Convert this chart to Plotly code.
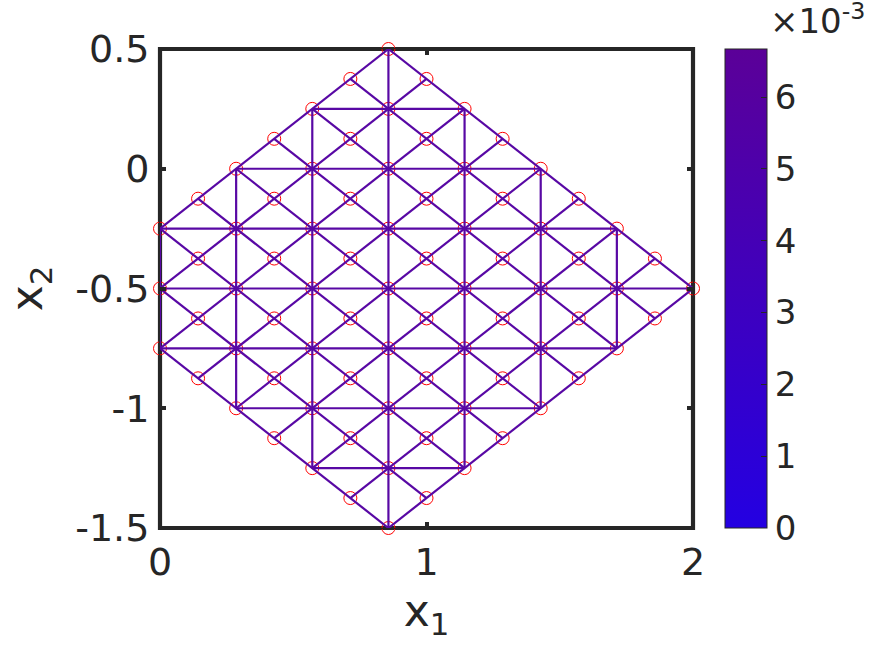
import plotly.graph_objects as go

# Lattice of the mesh
x_step = 1 / 7

# Node rows: level of x2 -> lattice columns (x1 = column / 7)
row_levels = [0.5, 0.375, 0.25, 0.125, 0, -0.125, -0.25, -0.375, -0.5, -0.625, -0.75, -0.875, -1, -1.125, -1.25, -1.375, -1.5]
row_columns = [
    [6], [5, 7], [4, 6, 8], [3, 5, 7, 9], [2, 4, 6, 8, 10],
    [1, 3, 5, 7, 9, 11], [0, 2, 4, 6, 8, 10, 12], [1, 3, 5, 7, 9, 11, 13],
    [0, 2, 4, 6, 8, 10, 12, 14], [1, 3, 5, 7, 9, 11, 13], [0, 2, 4, 6, 8, 10, 12],
    [1, 3, 5, 7, 9, 11], [2, 4, 6, 8, 10], [3, 5, 7, 9], [4, 6, 8], [5, 7], [6],
]

# Mesh edges: (column, x2) start and end
horizontal_edges = [((4, 0.25), (8, 0.25)), ((2, 0), (10, 0)), ((0, -0.25), (12, -0.25)),
                    ((0, -0.5), (14, -0.5)), ((0, -0.75), (12, -0.75)), ((2, -1), (10, -1)),
                    ((4, -1.25), (8, -1.25))]
vertical_edges = [((0, -0.25), (0, -0.75)), ((2, 0), (2, -1)), ((4, 0.25), (4, -1.25)),
                  ((6, 0.5), (6, -1.5)), ((8, 0.25), (8, -1.25)), ((10, 0), (10, -1)),
                  ((12, -0.25), (12, -0.75))]
falling_edges = [((6, 0.5), (14, -0.5)), ((5, 0.375), (13, -0.625)), ((4, 0.25), (12, -0.75)),
                 ((3, 0.125), (11, -0.875)), ((2, 0), (10, -1)), ((1, -0.125), (9, -1.125)),
                 ((0, -0.25), (8, -1.25)), ((0, -0.5), (7, -1.375)), ((0, -0.75), (6, -1.5))]
rising_edges = [((6, -1.5), (14, -0.5)), ((5, -1.375), (13, -0.375)), ((4, -1.25), (12, -0.25)),
                ((3, -1.125), (11, -0.125)), ((2, -1), (10, 0)), ((1, -0.875), (9, 0.125)),
                ((0, -0.75), (8, 0.25)), ((0, -0.5), (7, 0.375)), ((0, -0.25), (6, 0.5))]

x_ticks = [0, 1, 2]
y_ticks = [0.5, 0, -0.5, -1, -1.5]
y_tick_labels = ["0.5", "0", "-0.5", "-1", "-1.5"]
cbar_ticks = [0, 0.001, 0.002, 0.003, 0.004, 0.005, 0.006]
cbar_labels = ["0", "1", "2", "3", "4", "5", "6"]
cbar_range = [0, 0.00667]
colorscale = [[0, "#2400e2"], [1, "#5b0098"]]
INK = "#262626"
FONT = "DejaVu Sans"

node_x, node_y = [], []
for level, cols in zip(row_levels, row_columns):
    for c in cols:
        node_x.append(c * x_step)
        node_y.append(level)

edge_x, edge_y = [], []
for group in (horizontal_edges, vertical_edges, falling_edges, rising_edges):
    for (c0, y0), (c1, y1) in group:
        edge_x += [c0 * x_step, c1 * x_step, None]
        edge_y += [y0, y1, None]

fig = go.Figure()
fig.add_trace(go.Scatter(x=node_x, y=node_y, mode="markers", cliponaxis=False, showlegend=False,
                         marker=dict(symbol="circle-open", size=13, color="#ff0000", line=dict(width=1))))
fig.add_trace(go.Scatter(x=edge_x, y=edge_y, mode="lines", cliponaxis=False, showlegend=False,
                         line=dict(color="#5808a4", width=2.2)))
fig.add_trace(go.Scatter(
    x=[None, None], y=[None, None], mode="markers", showlegend=False,
    marker=dict(color=cbar_range, cmin=cbar_range[0], cmax=cbar_range[1], colorscale=colorscale,
                showscale=True,
                colorbar=dict(x=1.0603, xanchor="left", xref="paper", y=0, yanchor="bottom", yref="paper",
                              len=1, lenmode="fraction", thickness=42, thicknessmode="pixels",
                              outlinecolor=INK, outlinewidth=1, xpad=0, ypad=0,
                              tickmode="array", tickvals=cbar_ticks, ticktext=cbar_labels,
                              ticks="inside", ticklen=6, tickwidth=1, tickcolor=INK,
                              tickfont=dict(family=FONT, size=34, color=INK)))))

axis_common = dict(showgrid=False, zeroline=False, showline=True, linecolor=INK, linewidth=1,
                   mirror="allticks", ticks="inside", ticklen=6, tickwidth=3.5, tickcolor=INK,
                   tickfont=dict(family=FONT, size=38, color=INK))
fig.update_xaxes(range=[0, 2], tickvals=x_ticks, ticktext=[str(v) for v in x_ticks],
                 title=dict(text="x<sub>1</sub>", font=dict(family=FONT, size=44, color=INK), standoff=12),
                 **axis_common)
fig.update_yaxes(range=[-1.5, 0.5], tickvals=y_ticks, ticktext=y_tick_labels, ticklabelstandoff=2,
                 title=dict(text="x<sub>2</sub>", font=dict(family=FONT, size=44, color=INK), standoff=18),
                 **axis_common)
fig.update_layout(width=881, height=653, autosize=False,
                  margin=dict(l=160.3, r=188.1, t=49.3, b=125.2, autoexpand=False),
                  paper_bgcolor="white", plot_bgcolor="white",
                  shapes=[dict(type="rect", xref="paper", yref="paper", x0=0, x1=1, y0=0, y1=1,
                               layer="between", line=dict(color=INK, width=4.2))],
                  annotations=[dict(text="×10<sup>-3</sup>", xref="paper", yref="paper", x=1.1407, y=1.012,
                                    xanchor="left", yanchor="bottom", showarrow=False,
                                    font=dict(family=FONT, size=34, color=INK))])
fig.write_html("out.html", config=dict(displayModeBar=False), post_script="document.body.style.margin='0';")
